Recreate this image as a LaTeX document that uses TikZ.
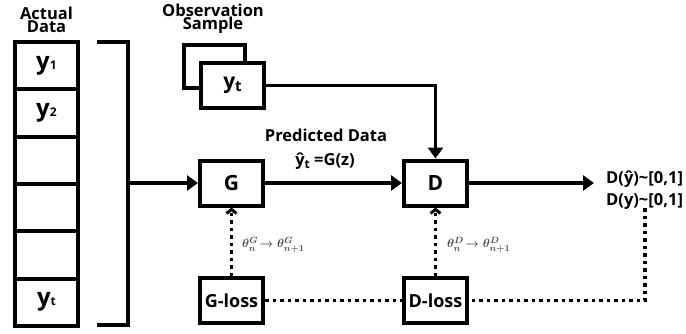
\documentclass[tikz,border=0pt]{standalone}
\usepackage{fontspec}
\setmainfont{Open Sans}
\usetikzlibrary{arrows.meta}
\tikzset{
  box/.style={draw, line width=4pt, fill=white, minimum width=63pt, minimum height=45pt, inner sep=0pt, font=\bfseries\fontsize{21}{21}\selectfont},
  cell/.style={draw, line width=4pt, fill=white, minimum width=63pt, minimum height=47.33pt, inner sep=0pt, font=\bfseries\fontsize{24}{24}\selectfont},
  lossbox/.style={box, font=\bfseries\fontsize{18}{18}\selectfont},
  conn/.style={line width=3.5pt, -{Triangle[length=11pt,width=15pt]}},
  dots/.style={line width=3.5pt, dash pattern=on 3.5pt off 4pt},
  upd/.style={dots, -{Straight Barb[length=4pt,width=10pt,line width=3pt]}},
  lbl/.style={font=\bfseries\fontsize{16.5}{16}\selectfont, align=center, inner sep=0pt},
  outlbl/.style={font=\bfseries\fontsize{16.5}{16}\selectfont, inner sep=0pt, anchor=west},
  theta/.style={text=black!70, font=\boldmath\fontsize{12.5}{12}\selectfont, inner sep=1pt, anchor=west}
}
\begin{document}
\begin{tikzpicture}[x=1pt,y=-1pt]
\useasboundingbox (0,0) rectangle (686,333);

% actual data column
\node[lbl] (actual) at (46.5,20) {Actual\\[-3pt]Data};
\foreach \i/\t in {1/{y{\fontsize{12}{12}\selectfont1}}, 2/{y{\fontsize{12}{12}\selectfont2}}, 3/{}, 4/{}, 5/{}, 6/{y{\fontsize{12}{12}\selectfont t}}}
  \node[cell] (c\i) at (46.5, {42+47.33*(\i-0.5)}) {\t};

% bracket gathering the column
\coordinate (bt) at (97,42);
\coordinate (bb) at (97,325);
\coordinate (bm) at (128,183);
\draw[line width=3.5pt] (bt) -| (bb -| bm) -- (bb);

% observation sample
\node[lbl] (obslbl) at (213,19) {Observation\\[-3pt]Sample};
\node[box, minimum width=61pt, minimum height=43pt] (obsback) at (214.5,66.5) {};
\node[box] (obs) at (232.5,85.5) {y{\fontsize{15}{15}\selectfont\raisebox{-3pt}{t}}};

% generator and discriminator
\node[box] (G) at (231.5,183) {G};
\node[box] (D) at (435.5,183) {D};
\node[lbl] (pred) at (326,135) {Predicted Data};
\node[lbl] (pred2) at (325,161) {ŷ\raisebox{-3pt}{\fontsize{12}{12}\selectfont t} =G(z)};

\draw[conn] (bm) -- (G.west);
\draw[conn] (G.east) -- (D.west);
\draw[conn] (obs.east) -| (D.north);
\coordinate (dout) at (594,183);
\draw[conn] (D.east) -- (dout);

\node[outlbl] (o1) at (606,179) {D(ŷ)\textasciitilde[0,1]};
\node[outlbl] (o2) at (606,201) {D(y)\textasciitilde[0,1]};

% losses
\node[lossbox] (GL) at (231.5,300.5) {G-loss};
\node[lossbox] (DL) at (435.5,300.5) {D-loss};

\draw[upd] (GL.north) -- (G.south);
\draw[upd] (DL.north) -- (D.south);
\node[theta] (tg) at (241,245) {$\theta_{n}^{G}\!\rightarrow\theta_{n+1}^{G}$};
\node[theta] (td) at (446,245) {$\theta_{n}^{D}\!\rightarrow\theta_{n+1}^{D}$};

\coordinate (lc) at (645,208);
\draw[dots] (GL.east) -- (DL.west);
\draw[dots] (lc) |- (DL.east);
\end{tikzpicture}
\end{document}
